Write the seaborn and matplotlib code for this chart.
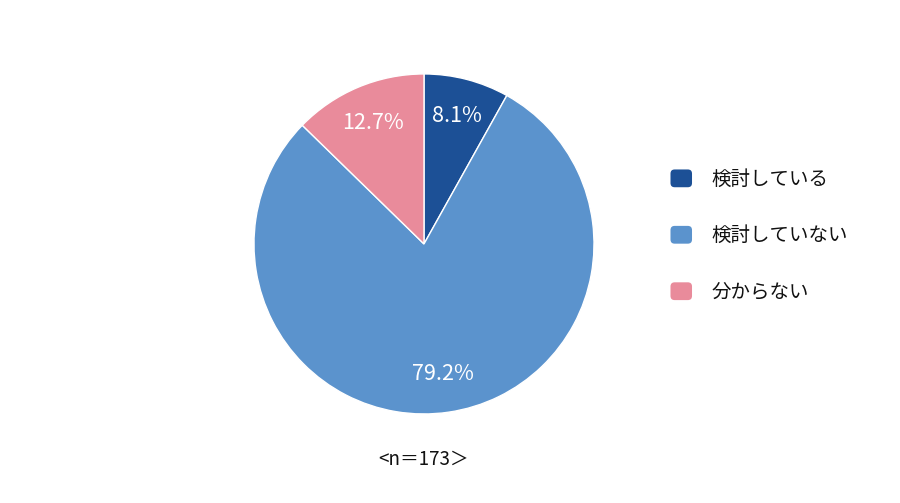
import matplotlib
matplotlib.use("Agg")
import matplotlib.pyplot as plt
from matplotlib.patches import FancyBboxPatch, Patch
from matplotlib.legend_handler import HandlerPatch
import seaborn as sns

labels = ["検討している", "検討していない", "分からない"]
values = [8.1, 79.2, 12.7]
colors = ["#1c5096", "#5b93cd", "#e98b9b"]
note = "<n＝173＞"

sns.set_theme(style="white")
plt.rcParams["font.family"] = ["Noto Sans CJK JP", "DejaVu Sans"]
palette = sns.color_palette(colors)


class RoundBox(HandlerPatch):
    def create_artists(self, legend, orig_handle, xdescent, ydescent,
                       width, height, fontsize, trans):
        p = FancyBboxPatch((-xdescent + 1.0, -ydescent + 1.0), width - 2, height - 2,
                           boxstyle="round,pad=0,rounding_size=3",
                           facecolor=orig_handle.get_facecolor(),
                           edgecolor="none", transform=trans)
        return [p]


fig = plt.figure(figsize=(9, 5.03), dpi=100)
ax = fig.add_axes([0.2822, 0.177, 0.3778, 0.676])
wedges, texts, autotexts = ax.pie(
    values, colors=palette, startangle=90, counterclock=False,
    autopct="%.1f%%", pctdistance=0.775,
    wedgeprops=dict(edgecolor="white", linewidth=1),
    textprops=dict(color="white", fontsize=15.5),
)
ax.set_xlim(-1, 1)
ax.set_ylim(-1, 1)
ax.set_aspect("equal")

handles = [Patch(facecolor=c) for c in palette]
leg = fig.legend(handles, labels, loc="center left", bbox_to_anchor=(0.724, 0.532),
                 frameon=False, fontsize=14, handlelength=1.25, handleheight=1.25,
                 handletextpad=0.95, labelspacing=1.78,
                 handler_map={Patch: RoundBox()})
for t in leg.get_texts():
    t.set_color("#111111")

fig.text(0.471, 0.087, note, ha="center", va="center", fontsize=13.5, color="#111111")

fig.savefig("out.png", dpi=100, facecolor="white")
